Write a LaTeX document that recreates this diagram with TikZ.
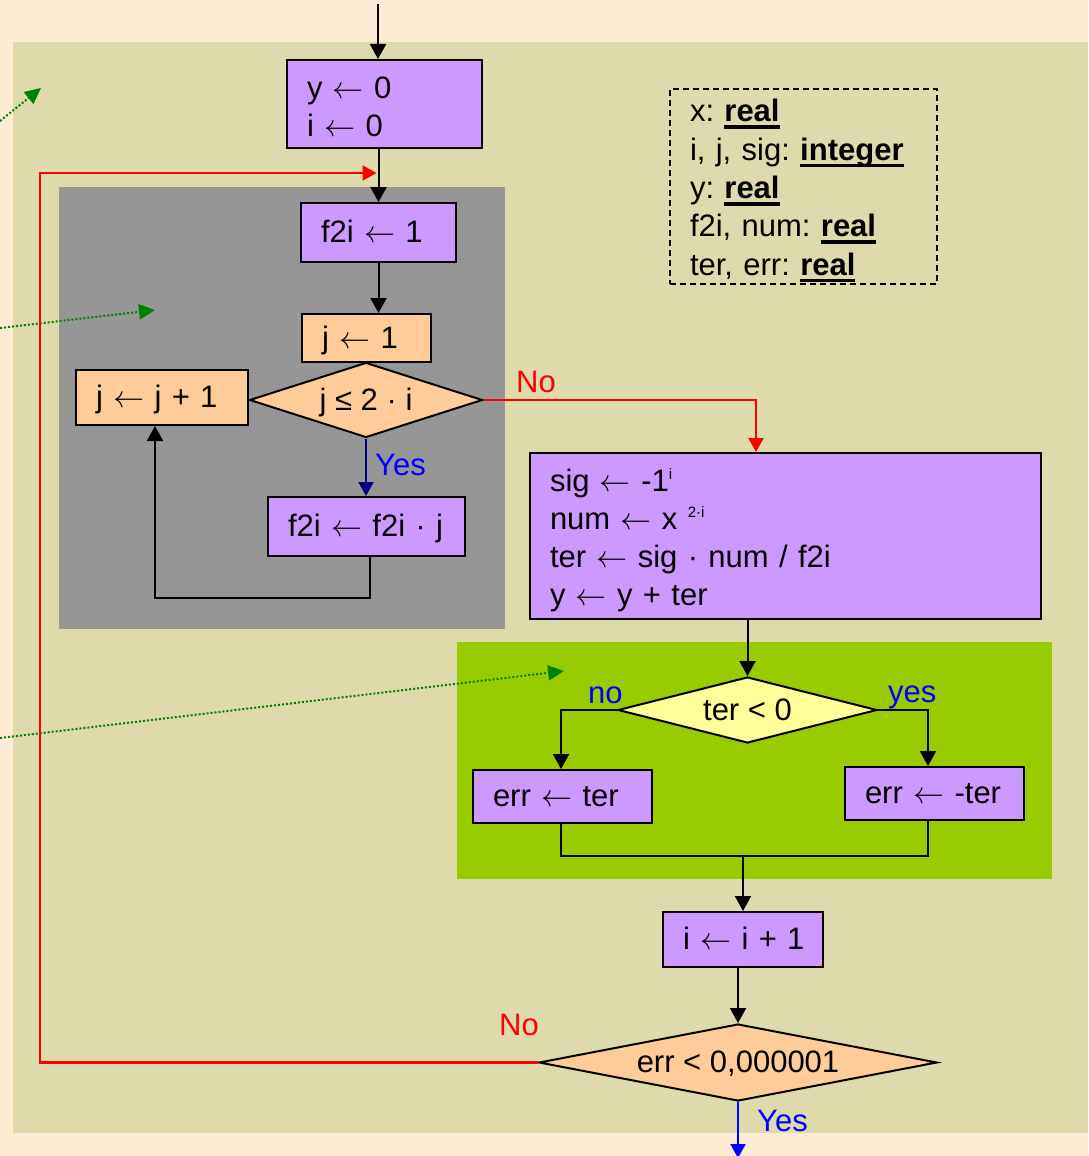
\RequirePackage{fix-cm}
\documentclass[tikz,border=0pt]{standalone}
\usepackage{fontspec}
\setmainfont{Liberation Sans}
\usetikzlibrary{shapes.geometric,arrows.meta}

\definecolor{cream}{HTML}{FCECD4}
\definecolor{panel}{HTML}{DFDAAC}
\definecolor{graybox}{HTML}{969696}
\definecolor{lime}{HTML}{99CC00}
\definecolor{purp}{HTML}{CC99FF}
\definecolor{peach}{HTML}{FFCC99}
\definecolor{lemon}{HTML}{FFFF99}
\definecolor{navy}{HTML}{000080}
\definecolor{leaf}{HTML}{008000}

\newcommand\fs{\fontsize{31}{38}\selectfont\frenchspacing}
\newcommand\fsdecl{\fontsize{31}{38.3}\selectfont\frenchspacing}
% thin assignment arrow
\newcommand\la{$\leftarrow$}
% bold type name with a heavy underline
\newcommand\kw[1]{\setbox0=\hbox{\bfseries #1}\rlap{\rule[-7pt]{\wd0}{3.5pt}}\box0}
% small raised exponent
\newcommand\expo[1]{\raisebox{12pt}{\fontsize{15}{15}\selectfont #1}}

\tikzset{
  boxbase/.style={draw=black, line width=2pt, font=\fs, inner ysep=0pt, inner xsep=20pt, align=left},
  proc/.style={boxbase, fill=purp},
  prep/.style={boxbase, fill=peach},
  oneline/.style={text height=22pt, text depth=2pt},
  cond/.style={shape=diamond, draw=black, line width=2pt, font=\fs, inner sep=0pt, text height=22pt, text depth=2pt},
  decl/.style={draw=black, line width=1.6pt, dash pattern=on 6pt off 4pt, font=\fsdecl, inner ysep=0pt, inner xsep=20pt, align=left},
  lbl/.style={font=\fs, inner sep=0pt, anchor=base west},
  arr/.style={draw=black, line width=2pt, -{Triangle[width=16pt,length=15pt]}},
  plain/.style={draw=black, line width=2pt},
  redarr/.style={draw=red, line width=2.2pt, -{Triangle[width=15pt,length=14pt]}},
  navyarr/.style={draw=navy, line width=2pt, -{Triangle[width=15pt,length=14pt]}},
  bluearr/.style={draw=blue, line width=2pt, -{Triangle[width=15pt,length=14pt]}},
  dotarr/.style={draw=leaf, line width=2pt, dash pattern=on 2pt off 2pt, -{Triangle[width=15pt,length=16pt]}}
}

\begin{document}
\begin{tikzpicture}[x=1pt,y=-1pt]
\useasboundingbox (0,0) rectangle (1088,1156);
\clip (0,0) rectangle (1088,1156);

% backgrounds and grouping panels
\fill[cream] (0,0) rectangle (1088,1156);
\fill[panel] (13,42) rectangle (1088,1133);
\fill[graybox] (59,187) rectangle (505,629);
\fill[lime] (457,642) rectangle (1052,879);

% pointer arrows from the left margin
\coordinate (g1s) at (0,121);  \coordinate (g1e) at (41,88);
\coordinate (g2s) at (0,328);  \coordinate (g2e) at (155,310);
\coordinate (g3s) at (0,738);  \coordinate (g3e) at (564,671);
\draw[dotarr] (g1s) -- (g1e);
\draw[dotarr] (g2s) -- (g2e);
\draw[dotarr] (g3s) -- (g3e);

% variable declarations
\node[decl, text width=227pt, minimum height=195pt] (vars) at (803.5,186.5)
  {\rule{0pt}{31pt}x: \kw{real}\\ i, j, sig: \kw{integer}\\ y: \kw{real}\\ f2i, num: \kw{real}\\ ter, err: \kw{real}};

% flowchart steps
\node[proc, text width=155pt, minimum height=88pt] (init) at (384.5,104)
  {\rule{0pt}{28pt}y \la{} 0\\ i \la{} 0};
\node[proc, oneline, text width=115pt, minimum height=59pt] (fb) at (378.5,232.5) {\mbox{f2i \la{} 1}};
\node[prep, oneline, text width=89pt, minimum height=48pt] (j1) at (366.5,338) {\mbox{j \la{} 1}};
\node[cond, fill=peach, minimum width=233pt, minimum height=75pt, aspect=3] (dj) at (366,400) {j ≤ 2 · i};
\node[prep, oneline, text width=132pt, minimum height=55pt] (jj) at (162,397.5) {\mbox{j \la{} j + 1}};
\node[proc, oneline, text width=157pt, minimum height=59pt] (f2ij) at (366.5,526.5) {\mbox{f2i \la{} f2i · j}};
\node[proc, text width=471pt, minimum height=166pt] (sig) at (785.5,536)
  {\rule{0pt}{32pt}sig \la{} -1\expo{i}\\ num \la{} x \expo{2·i}\\ ter \la{} sig · num / f2i\\ y \la{} y + ter\rule[-6pt]{0pt}{6pt}};
\node[cond, fill=lemon, minimum width=259pt, minimum height=66pt, aspect=4] (tern) at (747.5,710) {ter < 0};
\node[proc, oneline, text width=139pt, minimum height=53pt] (errl) at (562.5,796.5) {\mbox{err \la{} ter}};
\node[proc, oneline, text width=139pt, minimum height=53pt] (errr) at (934.5,793.5) {\mbox{err \la{} -ter}};
\node[proc, oneline, text width=120pt, minimum height=55pt] (inc) at (743,939.5) {\mbox{i \la{} i + 1}};
\node[cond, fill=peach, minimum width=398pt, minimum height=77pt, aspect=5] (errd) at (738,1062.5) {err < 0,000001};

% connectors
\coordinate (entry) at (378,4);
\draw[arr] (entry) -- (entry |- init.north);
\draw[arr] (init.south -| fb.north) -- (fb.north);
\draw[arr] (fb.south) -- (fb.south |- j1.north);
\draw[navyarr] (dj.south) -- (dj.south |- f2ij.north);

\coordinate (lpa) at (370,598);
\coordinate (lpb) at (155,598);
\draw[arr] (lpa |- f2ij.south) -- (lpa) -- (lpb) -- (lpb |- jj.south);

\draw[redarr] (dj.east) -| ([xshift=-29.5pt]sig.north);
\draw[arr] (sig.south -| tern.north) -- (tern.north);
\draw[arr] (tern.west) -| ([xshift=-1.5pt]errl.north);
\draw[arr] (tern.east) -| ([xshift=-6.5pt]errr.north);

\coordinate (mg) at (743,856);
\draw[plain] ([xshift=-1.5pt]errl.south) |- (mg);
\draw[plain] ([xshift=-6.5pt]errr.south) |- (mg);
\draw[arr] (mg) -- (inc.north);
\draw[arr] (inc.south -| errd.north) -- (errd.north);

\coordinate (lpc) at (40,173);
\draw[redarr, shorten >=2pt] (errd.west) -| (lpc) -- (lpc -| fb.north);

\coordinate (exit) at (738,1158);
\draw[bluearr] (errd.south) -- (exit);

% branch labels
\node[lbl, text=red] (no1) at (516,392) {No};
\node[lbl, text=blue] (yes1) at (375,475) {Yes};
\node[lbl, text=blue] (no2) at (588,703) {no};
\node[lbl, text=blue] (yes2) at (888,702) {yes};
\node[lbl, text=red] (no3) at (499,1035) {No};
\node[lbl, text=blue] (yes3) at (757,1131) {Yes};
\end{tikzpicture}
\end{document}
